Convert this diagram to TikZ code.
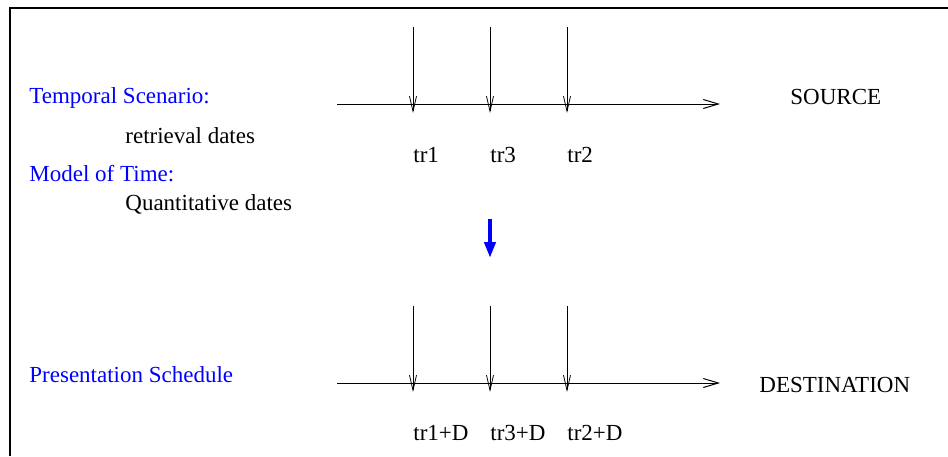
\documentclass[tikz,border=0pt]{standalone}
\usepackage{fontspec}
\setmainfont{Liberation Serif}
\usetikzlibrary{arrows.meta,positioning}

\begin{document}
\begin{tikzpicture}[
    x=0.5pt, y=-0.5pt,
    lbl/.style={anchor=base west, inner sep=0pt, font=\fontsize{11.5}{14}\selectfont},
    heading/.style={lbl, text=blue},
    tick/.style={-{Straight Barb[length=7.5pt,width=3.5pt]}, line width=0.4pt},
    axis/.style={-{Straight Barb[length=7.5pt,width=4.5pt]}, line width=0.5pt},
    mapping/.style={-{Triangle[length=8pt,width=5.5pt]}, line width=2.3pt, blue}
]
    \useasboundingbox (0,0) rectangle (948,456);
    % frame
    \coordinate (fbl) at (10,456);
    \coordinate (ftl) at (10,8);
    \coordinate (ftr) at (948,8);
    \draw[line width=0.6pt] (fbl) -- (ftl) -- (ftr);

    % left side labels
    \node[heading] (scen) at (29,103) {Temporal Scenario:};
    \node[lbl] (retr) at (125,143) {retrieval dates};
    \node[heading] (model) at (29,181) {Model of Time:};
    \node[lbl] (quant) at (125,210) {Quantitative dates};
    \node[heading] (sched) at (29,382) {Presentation Schedule};

    % source time line
    \coordinate (sa) at (337,104);
    \coordinate (sb) at (720,104);
    \draw[axis] (sa) -- (sb);
    \node[lbl] (source) at (790,104) {SOURCE};
    \foreach \x/\t [count=\i] in {413/tr1, 490/tr3, 567/tr2} {
        \coordinate (st\i) at (\x,27);
        \coordinate (sf\i) at (\x,113);
        \draw[tick] (st\i) -- (sf\i);
        \node[lbl] (sl\i) at (\x,162) {\t};
    }

    % mapping arrow
    \coordinate (ma) at (490,219);
    \coordinate (mb) at (490,258);
    \draw[mapping] (ma) -- (mb);

    % destination time line
    \coordinate (da) at (337,383);
    \coordinate (db) at (720,383);
    \draw[axis] (da) -- (db);
    \node[lbl] (dest) at (759,392) {DESTINATION};
    \foreach \x/\t [count=\i] in {413/tr1+D, 490/tr3+D, 567/tr2+D} {
        \coordinate (dt\i) at (\x,306);
        \coordinate (df\i) at (\x,392);
        \draw[tick] (dt\i) -- (df\i);
        \node[lbl] (dl\i) at (\x,440) {\t};
    }
\end{tikzpicture}
\end{document}
